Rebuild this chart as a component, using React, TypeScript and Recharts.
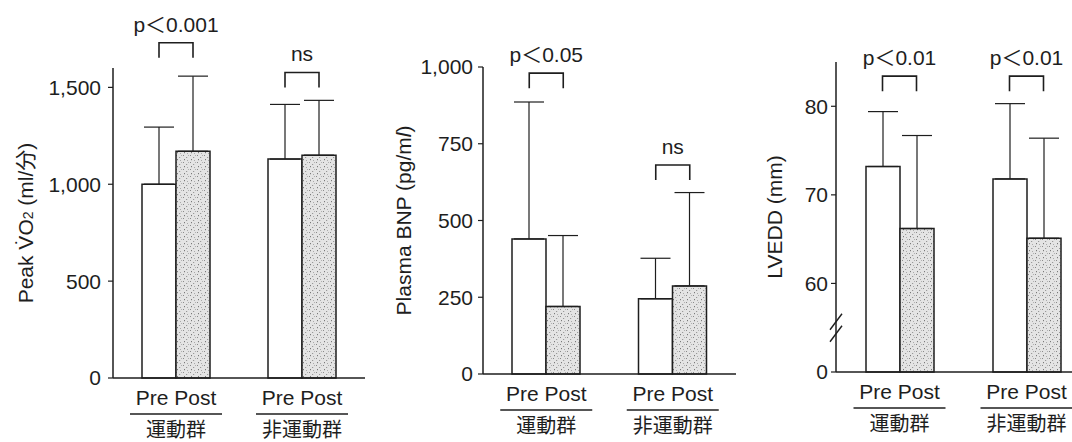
import React from 'react'
import { BarChart, Bar, ErrorBar, XAxis, YAxis, ReferenceDot, ReferenceLine } from 'recharts'

const FONT = "'Liberation Sans', 'Noto Sans CJK JP', sans-serif"
const INK = '#1e1e1e'

const GROUPS = ['運動群', '非運動群']

// Peak VO2
const VO2_PRE = [1000, 1130]
const VO2_PRE_SD = [295, 282]
const VO2_POST = [1170, 1150]
const VO2_POST_SD = [388, 283]
const VO2_BRACKET = [1730, 1577]
const VO2_P = ['p＜0.001', 'ns']
const VO2_TICKS = [0, 500, 1000, 1500]

// Plasma BNP
const BNP_PRE = [440, 245]
const BNP_PRE_SD = [446, 132]
const BNP_POST = [220, 287]
const BNP_POST_SD = [231, 304]
const BNP_BRACKET = [980, 681]
const BNP_P = ['p＜0.05', 'ns']
const BNP_TICKS = [0, 250, 500, 750, 1000]

// LVEDD (軸は 50 で切断、"0" 表示)
const LV_PRE = [73.2, 71.8]
const LV_PRE_SD = [6.2, 8.5]
const LV_POST = [66.2, 65.1]
const LV_POST_SD = [10.5, 11.3]
const LV_BRACKET = [83.4, 83.4]
const LV_P = ['p＜0.01', 'p＜0.01']
const LV_TICKS = [50, 60, 70, 80]
const LV_BREAK = 55

const buildData = (pre: number[], preSd: number[], post: number[], postSd: number[]) =>
  GROUPS.map((g, i) => ({
    group: g,
    pre: pre[i],
    post: post[i],
    preErr: [0, preSd[i]],
    postErr: [0, postSd[i]],
  }))

const GroupTick = (props: any) => {
  const { x, y, payload } = props
  return (
    <g fontFamily={FONT} fill={INK}>
      <text x={x} y={y + 27} textAnchor="middle" fontSize={21}>Pre Post</text>
      <line x1={x - 46} x2={x + 46} y1={y + 36} y2={y + 36} stroke={INK} strokeWidth={1.5} />
      <text x={x} y={y + 59} textAnchor="middle" fontSize={20}>{payload.value}</text>
    </g>
  )
}

const YTitle = (props: any) => {
  const { viewBox, cx, children } = props
  const cy = viewBox.y + viewBox.height / 2
  return (
    <text
      x={cx}
      y={cy}
      transform={`rotate(-90 ${cx} ${cy})`}
      textAnchor="middle"
      dominantBaseline="central"
      fontSize={21}
      fontFamily={FONT}
      fill={INK}
    >
      {children}
    </text>
  )
}

const bracket = (label: string) => (props: any) => {
  const { cx, cy } = props
  return (
    <g>
      <path d={`M${cx - 17},${cy + 15} V${cy} H${cx + 17} V${cy + 15}`} fill="none" stroke={INK} strokeWidth={1.6} />
      <text x={cx} y={cy - 11} textAnchor="middle" fontSize={21} fontFamily={FONT} fill={INK}>{label}</text>
    </g>
  )
}

const BreakMark = (props: any) => {
  const { x1, y1 } = props
  return (
    <g stroke={INK} strokeWidth={1.4}>
      <line x1={x1 - 6} y1={y1 + 2} x2={x1 + 6} y2={y1 - 14} />
      <line x1={x1 - 6} y1={y1 + 14} x2={x1 + 6} y2={y1 - 2} />
    </g>
  )
}

const Stipple = ({ id }: { id: string }) => (
  <defs>
    <pattern id={id} width="7" height="7" patternUnits="userSpaceOnUse">
      <rect width="7" height="7" fill="#e4e4e4" />
      <rect x="1" y="1" width="1" height="1" fill="#8a8a8a" />
      <rect x="4" y="3" width="1.2" height="1" fill="#999" />
      <rect x="2" y="5" width="1" height="1.2" fill="#7a7a7a" />
      <rect x="5" y="6" width="1" height="1" fill="#aaa" />
      <rect x="6" y="1" width="1" height="1" fill="#b0b0b0" />
    </pattern>
  </defs>
)

interface PanelProps {
  id: string
  left: number
  width: number
  margin: { top: number; right: number; left: number; bottom: number }
  yWidth: number
  titleX: number
  title: React.ReactNode
  domain: [number, number]
  ticks: number[]
  tickMargin: number
  data: any[]
  brackets: number[]
  pLabels: string[]
  format: (v: number) => string
  breakAt?: number
}

function Panel(p: PanelProps) {
  return (
    <div style={{ position: 'absolute', left: p.left, top: 0 }}>
      <BarChart width={p.width} height={442} data={p.data} margin={p.margin} barGap={0}>
        <Stipple id={p.id} />
        <XAxis
          dataKey="group"
          height={60}
          interval={0}
          tickLine={false}
          tickSize={0}
          tickMargin={0}
          axisLine={{ stroke: INK, strokeWidth: 1.5 }}
          tick={<GroupTick />}
        />
        <YAxis
          width={p.yWidth}
          domain={p.domain}
          ticks={p.ticks}
          interval={0}
          tickSize={5}
          tickMargin={p.tickMargin}
          tickFormatter={p.format}
          axisLine={{ stroke: INK, strokeWidth: 1.5 }}
          tickLine={{ stroke: INK, strokeWidth: 1.2 }}
          tick={{ fill: INK, fontSize: 21, fontFamily: FONT }}
          label={<YTitle cx={p.titleX}>{p.title}</YTitle>}
        />
        <Bar dataKey="pre" barSize={34} fill="#fff" stroke={INK} strokeWidth={1.5} isAnimationActive={false}>
          <ErrorBar dataKey="preErr" width={15} stroke={INK} strokeWidth={1.2} direction="y" />
        </Bar>
        <Bar dataKey="post" barSize={34} fill={`url(#${p.id})`} stroke={INK} strokeWidth={1.5} isAnimationActive={false}>
          <ErrorBar dataKey="postErr" width={15} stroke={INK} strokeWidth={1.2} direction="y" />
        </Bar>
        {p.breakAt !== undefined && (
          <ReferenceLine y={p.breakAt} ifOverflow="visible" shape={BreakMark} />
        )}
        {GROUPS.map((g, i) => (
          <ReferenceDot key={g} x={g} y={p.brackets[i]} ifOverflow="visible" shape={bracket(p.pLabels[i])} />
        ))}
      </BarChart>
    </div>
  )
}

const comma = (v: number) => v.toLocaleString('en-US')

export default function App() {
  return (
    <div style={{ position: 'absolute', left: 0, top: 0, width: 1072, height: 442, overflow: 'hidden', background: '#fff' }}>
      <Panel
        id="dot-vo2"
        left={0}
        width={370}
        margin={{ top: 68, right: 5, left: 53, bottom: 4 }}
        yWidth={60}
        titleX={25}
        title={<>Peak V̇O<tspan fontSize={14} dy={3}>2</tspan><tspan dy={-3}> (ml/分)</tspan></>}
        domain={[0, 1600]}
        ticks={VO2_TICKS}
        tickMargin={7}
        data={buildData(VO2_PRE, VO2_PRE_SD, VO2_POST, VO2_POST_SD)}
        brackets={VO2_BRACKET}
        pLabels={VO2_P}
        format={comma}
      />
      <Panel
        id="dot-bnp"
        left={370}
        width={370}
        margin={{ top: 67, right: 4, left: 53, bottom: 8 }}
        yWidth={60}
        titleX={33}
        title={<>Plasma BNP (pg/m<tspan fontStyle="italic">l</tspan>)</>}
        domain={[0, 1000]}
        ticks={BNP_TICKS}
        tickMargin={5}
        data={buildData(BNP_PRE, BNP_PRE_SD, BNP_POST, BNP_POST_SD)}
        brackets={BNP_BRACKET}
        pLabels={BNP_P}
        format={comma}
      />
      <Panel
        id="dot-lv"
        left={740}
        width={350}
        margin={{ top: 62, right: 0, left: 46, bottom: 10 }}
        yWidth={50}
        titleX={34}
        title="LVEDD (mm)"
        domain={[50, 85]}
        ticks={LV_TICKS}
        tickMargin={3}
        data={buildData(LV_PRE, LV_PRE_SD, LV_POST, LV_POST_SD)}
        brackets={LV_BRACKET}
        pLabels={LV_P}
        format={(v: number) => (v === 50 ? '0' : String(v))}
        breakAt={LV_BREAK}
      />
    </div>
  )
}
